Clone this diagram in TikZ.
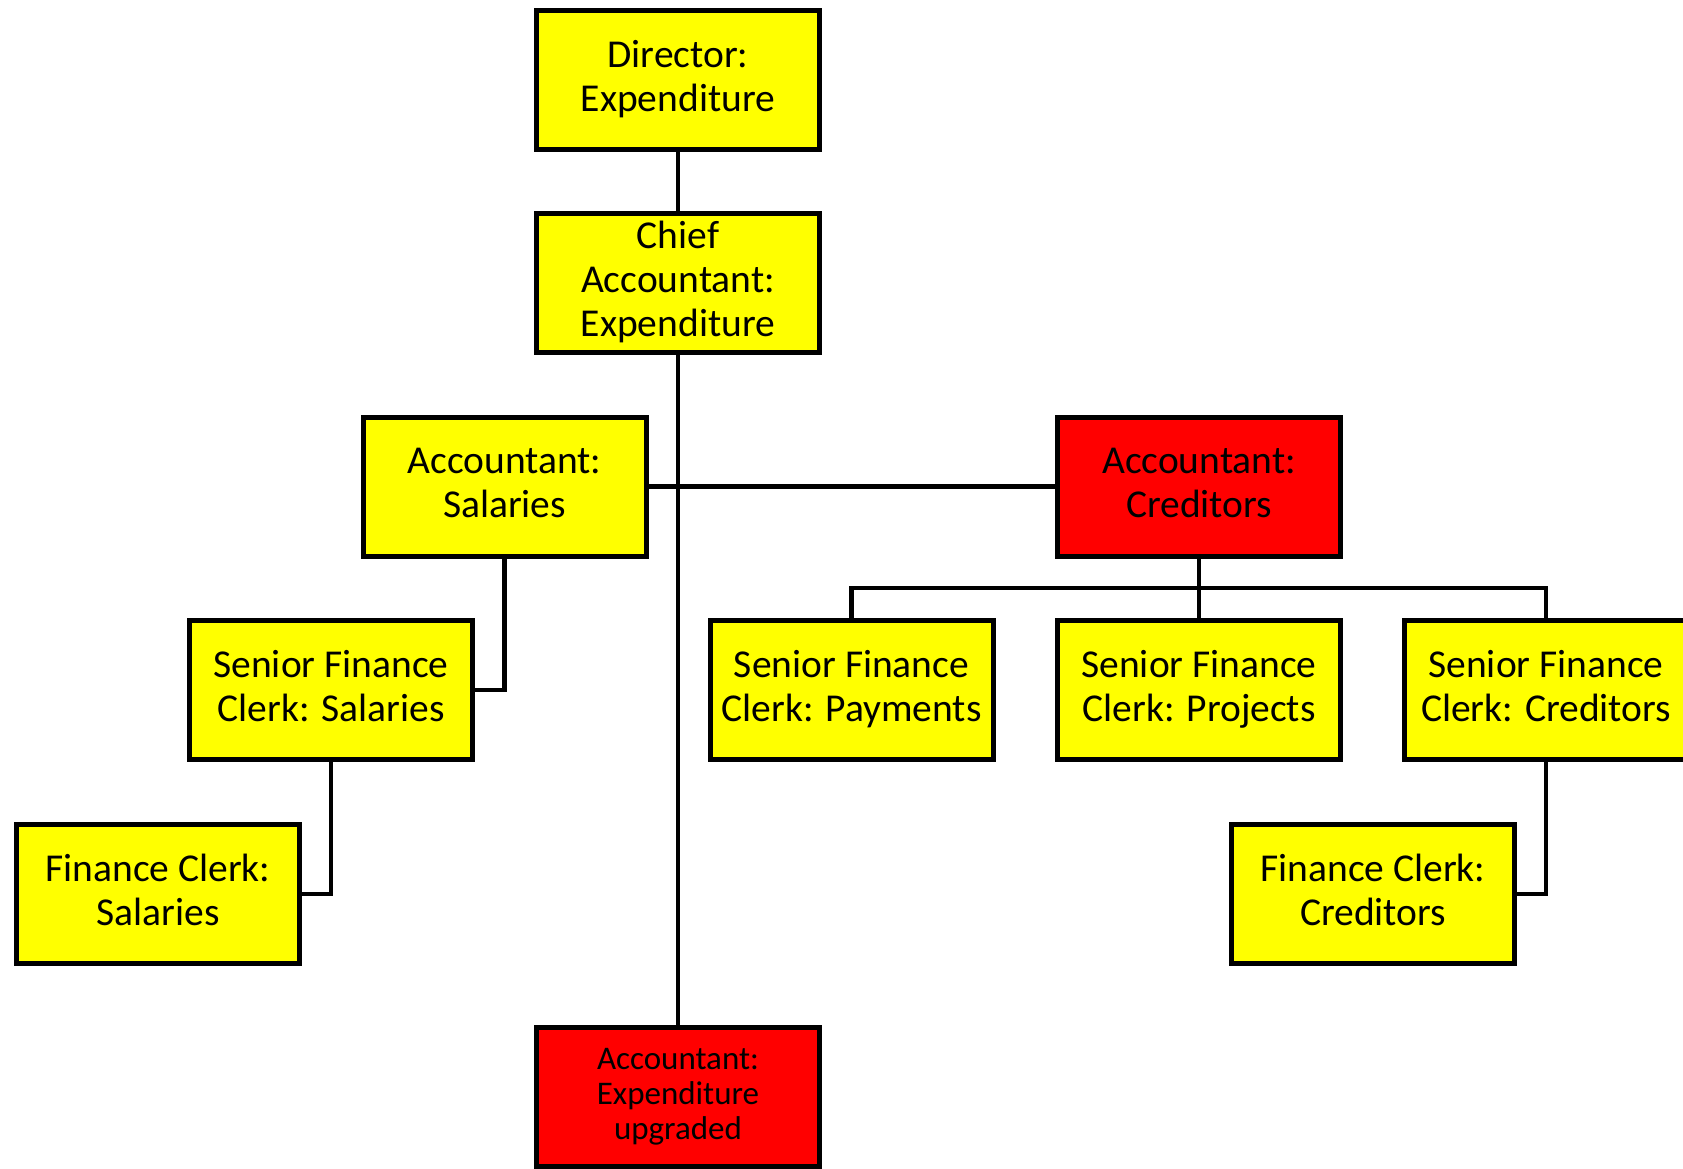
\documentclass[tikz,border=0pt]{standalone}
\usepackage{fontspec}
\setmainfont{Carlito}
\definecolor{boxyellow}{HTML}{FFFF00}
\definecolor{boxred}{HTML}{FF0000}
\newcommand{\mystrut}{\rule[-0.21em]{0pt}{0.78em}}
\begin{document}
\begin{tikzpicture}[x=1pt,y=-1pt,
  post/.style={draw=black, line width=5pt, minimum width=283pt, minimum height=139pt,
    inner sep=0pt, align=center, font=\fontsize{39.5}{44}\selectfont,
    execute at begin node=\mystrut, execute at end node=\mystrut},
  yel/.style={post, fill=boxyellow},
  redb/.style={post, fill=boxred},
  link/.style={draw=black, line width=4.7pt}]
\useasboundingbox (0,0) rectangle (1683,1169);
\clip (0,0) rectangle (1683,1169);
\node[yel] (dir) at (678,80) {Director:\\Expenditure};
\node[yel] (chief) at (678,283) {Chief\\Accountant:\\Expenditure};
\node[yel] (accsal) at (504.5,486.5) {Accountant:\\Salaries};
\node[redb] (acccred) at (1199,486.5) {Accountant:\\Creditors};
\node[yel] (sfcsal) at (331,690) {Senior Finance\\Clerk: Salaries};
\node[yel] (sfcpay) at (851.5,690) {Senior Finance\\Clerk: Payments};
\node[yel] (sfcproj) at (1199,690) {Senior Finance\\Clerk: Projects};
\node[yel] (sfccred) at (1546,690) {Senior Finance\\Clerk: Creditors};
\node[yel] (fcsal) at (158,894) {Finance Clerk:\\Salaries};
\node[yel] (fccred) at (1373,894) {Finance Clerk:\\Creditors};
\node[redb, font=\fontsize{33}{35}\selectfont] (accexp) at (678,1097) {Accountant:\\Expenditure\\upgraded};
\coordinate (bus) at (1199,588);
\draw[link] (dir) -- (chief);
\draw[link] (chief) -- (accexp);
\draw[link] (accsal) -- (acccred);
\draw[link] (accsal.south) |- (sfcsal.east);
\draw[link] (sfcsal.south) |- (fcsal.east);
\draw[link] (acccred.south) -- (bus);
\draw[link] (sfcpay.north) |- (bus) -| (sfccred.north);
\draw[link] (bus) -- (sfcproj.north);
\draw[link] (sfccred.south) |- (fccred.east);
\end{tikzpicture}
\end{document}
